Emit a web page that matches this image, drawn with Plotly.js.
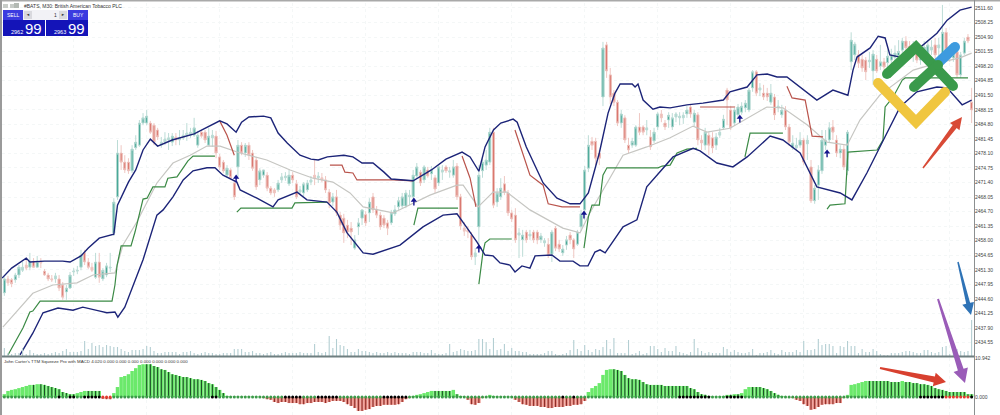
<!DOCTYPE html>
<html><head><meta charset="utf-8">
<script src="https://cdn.plot.ly/plotly-3.0.1.min.js"></script>
<style>html,body{margin:0;padding:0;background:#fff}#c{width:1000px;height:415px}</style></head>
<body><div id="c"></div>
<script>
const opens=[2443.9,2446,2449.2,2449,2449,2450.1,2451.2,2452.4,2451.9,2453.3,2451.9,2453.1,2451,2450.1,2449.2,2449.2,2449.2,2447.8,2446.2,2447.1,2450.8,2451,2451.9,2455.2,2453.1,2451.9,2449.6,2453.1,2449.2,2450.1,2451.7,2459.8,2468.1,2478.2,2476.1,2476.1,2474.1,2479.4,2480,2485.1,2485.1,2485.1,2484.6,2483.5,2480,2480.7,2481.2,2480.7,2481.9,2481.2,2481.7,2482.3,2482.3,2482.3,2480,2483,2483,2480,2481.7,2482.1,2477.3,2476.1,2473.1,2474.3,2471.3,2475,2480,2478.2,2480,2478.2,2476.6,2472,2473.1,2473.1,2470.1,2469.7,2469.7,2472,2472.5,2471.1,2473.1,2471.1,2469.2,2469,2469.7,2471.5,2473.1,2472.5,2472.5,2472,2469.2,2466.9,2468.1,2463.9,2463.2,2461.6,2460.9,2456.3,2461.2,2463.2,2464,2464.4,2468.1,2465.1,2463.9,2463.2,2462.1,2462.1,2464.2,2465.8,2466,2466,2468.1,2468.1,2472.9,2473.8,2472,2474.3,2473.4,2472.5,2471.3,2473.8,2475,2473.8,2473.1,2475.2,2468.1,2460.9,2460.5,2459.3,2454.3,2461.2,2474.1,2475.4,2476.1,2483,2466.9,2468.1,2471.1,2469,2464.4,2463.9,2459.3,2458.2,2460,2459.1,2460,2460,2458.2,2457.5,2457.2,2454.9,2460.9,2457.2,2455.2,2457,2459.3,2458.2,2457.2,2461.2,2465.1,2474.7,2480.9,2480.9,2478.2,2491.1,2503.1,2496.2,2492,2489.9,2485.1,2486.3,2480,2480,2480,2484.2,2484.2,2483.5,2481.9,2481,2484.2,2487.2,2485.1,2485.8,2484.2,2486.5,2486.3,2486.3,2487.2,2488.8,2485.3,2487,2481.2,2480,2482.3,2481.7,2480,2482.3,2484,2492.7,2488.1,2485.1,2487,2487.6,2488.6,2488.1,2493.2,2496.9,2492.7,2492,2492,2489.9,2491.1,2488.6,2487,2488.1,2484.2,2479.4,2479.4,2480,2481.2,2480.3,2475,2467.2,2470.8,2474.1,2480,2481.2,2484.2,2481.2,2478.2,2479.1,2474.1,2499.2,2500.8,2500.8,2499.8,2499.6,2499.2,2497.1,2499.8,2498.2,2499.2,2499,2499.6,2500.2,2500.6,2501.9,2504,2502.8,2500.8,2501.9,2499.6,2501.5,2500.3,2501.9,2503.1,2502.4,2500.3,2506,2500.8,2500.1,2501.5,2496.2,2501.2,2504.9,2489.9];
const highs=[2446.6,2449.6,2449.9,2449.4,2450.6,2452.4,2453.1,2453.6,2455.2,2454,2454.5,2454,2451.5,2450.6,2450.1,2450.6,2450.1,2448.5,2447.8,2450.8,2451.7,2452.2,2455.9,2455.9,2454,2452.9,2455.2,2455.2,2451.7,2452.9,2455.2,2467.8,2481.2,2480,2477.7,2477,2480,2482.3,2485.8,2487.4,2488.1,2485.6,2485.1,2484,2481.9,2483,2482.8,2482.8,2482.8,2483.5,2483.5,2485.1,2484,2486.3,2483.3,2483.5,2483.5,2484,2483.5,2483.3,2478,2476.6,2475.4,2474.7,2472,2481.2,2480.7,2480.5,2480.7,2478.9,2477.3,2474.7,2474.3,2473.8,2470.6,2470.1,2472,2473.6,2473.8,2474.3,2473.8,2472,2470.6,2471.5,2472,2472.9,2476.6,2473.8,2473.6,2472.9,2469.9,2469,2469.7,2464.6,2464.2,2462.8,2462.3,2459.3,2463.2,2465.2,2464.8,2467.8,2469,2466,2464.6,2463.9,2462.8,2465.1,2466.2,2468.1,2469,2469.7,2469.7,2474.3,2475.9,2474.3,2475.4,2475,2475.2,2473.1,2475.4,2475.4,2475.4,2475,2476.6,2475.9,2468.8,2462.3,2461.4,2460,2456.3,2475.4,2477,2478.9,2484,2484,2470.1,2472.4,2472.9,2469.7,2465.1,2465.5,2460.9,2460.5,2460.5,2460.5,2460.5,2460.5,2459.8,2458.6,2458.6,2460.5,2461.4,2458.2,2457,2459.1,2460,2458.6,2460.5,2465.1,2475.2,2482.3,2481.9,2481.7,2478.9,2503.8,2503.8,2497.8,2492.7,2490.4,2488.1,2486.9,2481.7,2481.7,2484.6,2487.4,2484.6,2485.8,2483.5,2484,2487.6,2488.1,2485.8,2487.6,2487.4,2487.6,2487.6,2487.6,2489,2489.5,2488.1,2487.6,2482.3,2484,2483,2483,2482.8,2484,2487,2493.2,2489,2488.6,2489.5,2489.9,2490.4,2493.2,2497.3,2497.3,2494.3,2493.9,2493.2,2494.1,2491.8,2490.4,2489.3,2489,2484.9,2482.3,2481.7,2483,2481.7,2482.3,2476.6,2470.8,2475.4,2483.5,2483.5,2485.3,2485.8,2482.3,2480,2480,2483.5,2506,2503.8,2501.9,2500.8,2500.3,2501.5,2501.9,2500.8,2503.1,2500.1,2502,2502.2,2503,2504.2,2504.7,2505.1,2504,2504,2503,2503.1,2504,2504.2,2504.2,2504.7,2504.7,2512.3,2507,2503.1,2502.4,2502.4,2501.5,2504.7,2505.6,2493.2];
const lows=[2443.2,2445.3,2447.6,2447.3,2448.3,2449.4,2450.8,2451.2,2451.2,2451.7,2451.7,2451.7,2449.9,2448.7,2448.5,2448.3,2446.4,2444.4,2444.4,2446.9,2449.9,2450.3,2451.2,2452.4,2451.5,2450.8,2449.2,2448.3,2448.7,2449.6,2450.8,2459.1,2467.4,2474.3,2473.6,2473.4,2473.6,2478.9,2479.6,2484.6,2484.6,2482.6,2480,2481.2,2479.4,2480,2478.9,2479.8,2480,2480,2481.2,2481,2481.7,2481.9,2479.4,2481.7,2480.5,2479.8,2479.6,2477,2474.3,2473.6,2472.5,2472,2467.4,2472.7,2477.7,2477.3,2476.6,2474.1,2469.7,2470.8,2472.5,2469.4,2468.5,2468.1,2469.2,2471.3,2471.8,2470.6,2471.3,2467.6,2468.5,2468.3,2469.2,2470.8,2470.8,2471.3,2471.5,2469,2465.5,2466,2463.7,2460.5,2457.5,2458.6,2457,2455.9,2459.3,2461.6,2461.4,2462.3,2464.4,2463.2,2460.5,2460.9,2459.3,2461.6,2463.7,2465.1,2465.5,2465.5,2466.2,2467.4,2472.5,2470.6,2471.3,2472.5,2472,2469,2470.6,2472,2473.6,2472.5,2472.5,2467.4,2460.5,2459.1,2458.6,2453.6,2452.4,2455.9,2472.5,2474.3,2475.4,2465.5,2465.8,2467.4,2468.5,2463.7,2462.3,2457.5,2454,2454.3,2457.5,2458.2,2457.5,2457.2,2457.5,2456.6,2454,2453.1,2455.6,2455.4,2454.5,2455.9,2457.2,2454,2456.8,2460.2,2462.8,2473.8,2478.9,2475.4,2475.4,2489,2495.5,2489.5,2489,2484.4,2484,2480.5,2478.2,2479.4,2479.6,2482.3,2482.3,2482.3,2478.9,2480.5,2483.5,2485.3,2483.5,2484,2483.5,2485.3,2484.6,2484.9,2486.3,2486.3,2484.4,2480,2478.9,2478.9,2477.7,2478.2,2478.9,2481.7,2483.5,2484.6,2483.5,2484.4,2486.3,2487,2487.6,2487.6,2492.3,2491.3,2491.3,2490.4,2490.2,2489.3,2485.8,2487.6,2486.3,2483.5,2479.8,2478.9,2478.9,2479.4,2475.4,2476.6,2466.7,2466.5,2467.4,2473.4,2478.9,2480.5,2481.2,2477.3,2477,2474.3,2473.1,2497.3,2499.6,2497.8,2496.9,2495,2497.8,2493.9,2496.6,2497.3,2497.3,2497.5,2498.2,2498.9,2499.5,2500.8,2501.5,2500.8,2499.2,2498.9,2498.5,2500.4,2499.2,2500.8,2499.6,2500.5,2496.9,2501.8,2499.2,2499.2,2495.5,2495.5,2500.8,2503.5,2485.1];
const closes=[2446.2,2449.2,2448.3,2448.1,2450.1,2451.9,2451.9,2451.7,2453.3,2451.9,2453.3,2452.9,2450.1,2449.2,2449,2449.9,2447.1,2445,2447.1,2450.1,2451,2451.2,2454.7,2453.1,2451.9,2451.2,2453.1,2449.6,2451.2,2452.2,2451.9,2466.9,2478.2,2476.1,2474.3,2474.1,2479.1,2480.7,2485.1,2486.3,2486.7,2483,2480.7,2481.9,2480.7,2481.4,2481.7,2482.1,2481.2,2481.7,2482.3,2482.8,2483,2484,2482.3,2482.1,2481.2,2482.1,2482.3,2478.2,2475,2474.1,2474.7,2472.5,2468.1,2480,2478.2,2480,2477.7,2474.7,2470.4,2474.1,2474.3,2470.1,2469,2469,2471.3,2472.7,2472.9,2473.1,2472,2468.1,2469.7,2471.1,2471.3,2472,2472.5,2472.9,2472,2469.7,2466.7,2468.1,2464.4,2461.6,2459.8,2460,2460,2458.2,2462.1,2465.1,2462.1,2466.9,2465.1,2463.9,2461.2,2461.6,2460.9,2464.4,2465.1,2467.2,2468.1,2469,2468.5,2473.1,2475,2471.3,2475,2472.9,2474.3,2469.9,2475,2474.3,2474.1,2474.1,2475,2468.1,2461.4,2460.2,2460,2454.3,2455.2,2473.1,2476.1,2476.6,2483,2466.2,2469,2470.1,2469.2,2464.4,2463,2458.2,2459.8,2459.3,2458.2,2459.5,2458.2,2458.2,2459.1,2458,2454.7,2460,2456.3,2456.1,2456.1,2458.2,2458.2,2456.1,2460,2464.2,2474.3,2480,2480,2477,2477,2502.4,2497.1,2491.1,2489.9,2485.1,2487.2,2481.2,2478.9,2480.9,2484.2,2483,2483,2484,2479.6,2483,2487.2,2486.3,2484.2,2486.9,2486.3,2487.2,2486.7,2486.9,2488.1,2487.2,2487.4,2481.2,2480.5,2483,2480,2479.4,2481.9,2483,2486,2490.4,2484,2488.1,2488.8,2489,2489.7,2492.7,2496.9,2492,2493.2,2491.1,2491.1,2492,2487,2489,2488.1,2484.2,2480.7,2480.5,2480,2481.2,2476.1,2481.2,2467.2,2470.1,2474.3,2481.2,2481.2,2484,2483,2478.2,2479.1,2475,2483,2504.2,2503.3,2498.9,2497.8,2496.9,2499.6,2501,2497.1,2499.2,2498,2500.5,2500.8,2501.2,2501.6,2504,2502.4,2501.5,2502.4,2499.6,2501.5,2502.6,2503.1,2502.6,2500.8,2503.1,2506,2501.9,2501.9,2501,2496.2,2500.8,2504,2504,2488.1];
const volume=[3,8,3,2,3,3,8,2,6,3,2,2,3,2,3,4,3,5,7,4,4,4,5,15,7,13,10,11,9,11,10,9,9,7,5,4,6,6,6,7,10,9,5,3,3,4,4,4,4,2,4,4,5,3,2,3,4,3,3,2,2,3,3,3,7,7,7,4,4,5,3,3,2,3,4,2,2,3,4,3,3,3,4,3,3,3,12,4,3,4,20,8,17,11,10,7,4,4,7,5,5,4,3,4,3,3,4,3,4,3,3,3,2,4,4,4,3,3,6,3,2,2,3,12,4,5,7,6,5,5,6,17,17,14,7,18,6,7,12,5,8,5,5,4,4,2,2,2,2,3,5,5,2,1,2,3,6,16,7,5,11,6,4,7,6,9,16,7,18,3,3,3,16,2,3,5,2,3,10,10,7,4,8,5,5,10,4,3,2,4,17,8,5,3,4,3,3,3,9,7,4,6,4,3,3,4,7,1,3,3,4,6,3,2,6,4,4,4,6,4,15,6,6,7,17,11,12,12,10,3,10,9,15,10,10,3,7,4,4,7,5,2,1,1,3,3,3,4,5,5,4,3,3,6,6,4,3,4,9,10,2,10,7,5,4,5,36];
const histogram=[.3,.8,1.7,2,2.2,2.5,2.8,3.1,3.4,3.4,3.6,3.6,3.4,3.1,2.8,2.5,2.2,1.4,1.1,.8,.8,1.1,1.4,1.7,1.7,1.7,1.7,1.7,-.5,-.6,-.6,1.1,2.8,5.6,5.9,6.4,7.3,8.1,9,9.2,9.2,9.2,8.7,8.4,7.8,7.6,7,6.4,6.2,5.9,5.6,5.6,5.3,5,5,4.8,4.5,3.9,3.6,2.8,2,1.1,.3,.1,.1,.1,.1,.1,.1,.1,.1,.1,-.3,-.6,-.8,-1.4,-1.7,-1.4,-1.4,-1.7,-1.7,-1.7,-2,-2,-1.7,-1.7,-1.4,-1.4,-1.4,-1.7,-1.4,-1.1,-1.1,-1.1,-1.4,-2,-2.5,-3.1,-3.9,-3.9,-3.6,-3.4,-2.8,-2.5,-2.5,-2.2,-2.2,-2.2,-2.2,-2,-1.4,-.6,-.3,.3,.6,.8,1.1,1.4,1.7,1.7,1.7,1.7,1.7,1.7,2,.8,.3,.1,-.8,-2,-2.2,-1.7,-.3,.1,.6,.3,.1,.1,.1,.1,.1,-.8,-1.4,-2,-2.2,-2.5,-2.5,-2.5,-2.8,-2.8,-3.1,-3.1,-2.8,-2.8,-2.8,-2.5,-2.5,-2.2,-2.2,-2,-1.1,1.4,2.5,3.1,3.9,6.2,7.6,7.8,7.8,7.6,7.3,6.2,5.3,5,5,4.8,4.2,3.6,3.4,3.4,3.4,3.4,3.1,3.1,3.1,3.1,3.1,3.1,3.1,2.5,2.2,1.4,.8,.6,.3,.1,.1,.1,.3,.6,.6,.8,.8,1.1,2.2,2.8,2.8,2.8,2.8,2.5,2.2,1.7,1.1,.6,.3,.1,-.1,-.3,-.8,-1.1,-2,-2.5,-3.6,-3.4,-2.8,-2.2,-2,-2,-2,-1.7,-1.7,-.3,.6,3.4,3.6,3.9,4.2,4.5,4.5,4.5,4.5,4.5,4.5,4.5,4.2,4.2,4.2,4.5,4.2,4.2,3.9,3.9,3.6,3.6,3.4,3.1,2.5,2.2,2,1.7,1.4,1.4,1.4,1.4,1.4,.8,.8];
const blackDots=[16,19,20,23,24,25,26,27,58,59,78,79,80,81,82,87,88,89,90,91,92,105,106,107,108,109,110,111,154,157,186,187,188,189,190,191,192,193,194,199,200,201,202,203,252,253,254,255,256,257,258,266];
const redDots=[28,29,30,259,260,261,262,263,264,265];
const upperX=[0.4,3,7,8,12,17,19,22,24,27,31,31.3,32,35,37,39,41,43,47,53,57,60,62,64.5,66,68,72,74,76,78.5,82,85,87,89.5,94,96.5,99,102,105,107,113,118,122,126.4,128.6,131,132.7,135,137,140.4,141.5,144,148.6,152.4,156,158.7,161,164,166.4,168.3,169.7,173,173.8,174.6,176,178.7,180.6,183.4,188,192.4,198,199.8,204.5,207.2,210,212.7,215.4,219,223.6,228,232.1,233.5,234.6,238.2,240.4,242.3,243.6,246.4,251,256.5,259.3,262.8,266];
const upperY=[2449.4,2451.7,2454,2453.1,2453.3,2453.3,2453.1,2454.5,2456.3,2458.6,2459.5,2461.6,2466.2,2471.5,2474.3,2478.9,2481.4,2479.8,2481.2,2482.6,2484.4,2485.6,2484.9,2483,2485.3,2486.5,2486.7,2486.3,2482.8,2480.5,2477.7,2476.8,2476.6,2477.3,2477.7,2477.3,2475.9,2475.9,2473.8,2472.2,2471.8,2474.3,2476.8,2478.4,2477.3,2474,2479.6,2483.5,2485.1,2486,2485.3,2479.6,2471.3,2467.8,2466.5,2466.5,2469,2478.2,2487.4,2492,2494.1,2494.1,2493.4,2494.1,2490.4,2488.3,2488.8,2488.6,2489.3,2489.7,2490.4,2492.3,2493.4,2496.2,2496.4,2495.7,2495.7,2493.4,2490.4,2492.7,2491.5,2497.3,2500.3,2502.4,2505.1,2504.7,2500.8,2500.3,2501.9,2505.8,2508.8,2511.1,2511.8];
const lowerX=[5.3,8.8,11.6,15.7,19.8,22.5,27.2,29.1,31.3,32.1,34,39,42.8,44.5,47.2,50,52.7,56.5,58.7,60.9,64.7,65.6,70.2,74.6,76,81.2,83.9,89.4,92.1,94.9,99.3,102,109.4,115.7,121.2,125,127.8,130.5,132.7,134.9,136.8,139.5,140.9,142.8,145,146.4,151,153.2,156.8,158.7,160.9,162.8,164.2,165.6,170.5,174.3,177,179.8,184.2,189.7,191.6,196.2,200.6,204.5,210.8,214.3,219,223.6,230,233.2,237.3,242.8,246.4,251,256.5,259.3,263.4,266];
const lowerY=[2431.7,2436.7,2441.4,2442.5,2442,2442.7,2441.8,2441.4,2441.6,2440.4,2442.7,2453.6,2463.9,2465.1,2468.1,2472,2474.1,2474.8,2474.8,2473.1,2471.5,2469.7,2467.8,2465.8,2467.4,2469.2,2467.4,2466.9,2464.6,2459.8,2455.2,2454.9,2457,2461.2,2463.9,2464.2,2460.9,2457.7,2454.7,2454.5,2452.9,2452.4,2450.8,2452.2,2451.7,2454.5,2454.7,2453.3,2453.3,2452.2,2452.2,2455.4,2455.9,2455.2,2461.2,2462.8,2470.4,2473.1,2477.3,2479.3,2478.7,2475.9,2475,2477.3,2482.1,2481.2,2478.2,2470.4,2469,2467.4,2473.6,2482.8,2488.8,2492.3,2493.4,2493.2,2489.3,2490.4];
const midX=[0.6,8.8,14.3,20.9,25.3,31.3,33.5,37.3,42.8,47.2,51.9,56.5,60.1,65.6,72.9,79.3,85.6,91,95.7,99.3,107.5,117.6,125,126.7,130.8,134.9,138.7,145,154,158.7,161.4,166.1,170.5,177,183.4,189.7,193.5,199.8,209.9,214.3,220.9,226.4,231.9,235.4,240.9,250,256.5,262.8,266];
const midY=[2438.1,2445.9,2447.8,2448.3,2450.1,2450.6,2457,2462.3,2471.3,2475.9,2477.7,2479.8,2479.8,2478.2,2476.6,2474.3,2472.4,2471.5,2469,2465.8,2464.4,2468.5,2470.8,2470.8,2465.8,2469.2,2469.2,2465.1,2460.9,2459.8,2464.4,2471.3,2477.7,2479.6,2481.7,2484.4,2483,2483.9,2488.8,2488.6,2484.7,2480.7,2480,2485.8,2491.6,2497.3,2498.9,2500.1,2501.2];
const resistX=[60,62,64,null,90.2,93.5,94.3,96.5,97.6,107.5,113,null,126.4,128.6,130.2,null,140.9,142.8,145,148.6,150,153.8,158.7,null,191.6,201.2,null,215.4,216.8,220.4,222.3,225.3];
const resistY=[2485.6,2482.3,2477.7,null,2475.4,2475.4,2473.8,2473.6,2472,2472,2471.8,null,2477.5,2472.4,2465.8,null,2483.5,2478.9,2473.1,2470.8,2466.5,2465.8,2465.8,null,2488.8,2488.8,null,2493.6,2490.9,2490.4,2482.1,2481.9];
const supportX=[2,6.1,8,8.8,10.8,30.5,31.3,31.9,33,35.7,36.8,39,40.1,41.7,45,45.8,48.3,51.3,52.7,58.7,null,64.7,65.8,79.8,80.6,89.4,null,113.2,114.3,125.3,null,131,132.1,132.7,134,140,null,159.8,161,162,164,165,166.1,180.1,181.2,183.4,185.3,188,190.8,null,203.9,205.3,214.3,null,226.4,227.2,231.3,232.1,240.1,241.7,242.3,244.5,247,247.8,265];
const supportY=[2431.7,2437.9,2441.6,2441.8,2444.1,2444.1,2447.8,2452.4,2456.8,2456.8,2460,2467.6,2467.8,2470.4,2470.4,2472.4,2472.7,2476.4,2477.5,2477.5,null,2464.6,2465.5,2465.5,2466.7,2466.9,null,2461.6,2465.5,2465.5,null,2448,2455.2,2457.5,2458.4,2458.4,null,2456.3,2463.5,2466.2,2466.2,2473.1,2474.8,2474.8,2475.2,2475.4,2478.2,2479.1,2479.3,null,2477.3,2482.8,2482.8,null,2465.3,2466.2,2466.5,2478.4,2478.9,2481.2,2488.8,2491.1,2495,2495.5,2495.5];
const signalX=[64.5,113.2,131,159.8,202.5,226.4];
const signalY=[2472.6,2467.3,2456.5,2464.3,2486.4,2478.4];
const priceTicks=[2511.60,2508.25,2504.90,2501.55,2498.20,2494.85,2491.50,2488.15,2484.80,2481.45,2478.10,2474.75,2471.40,2468.05,2464.70,2461.35,2458.00,2454.65,2451.30,2447.95,2444.60,2441.25,2437.90,2434.55];
const subTicks=[10.942,0,-4.5];
const subTickText=['10.942','0.000','-4.787'];

const idx=opens.map((_,i)=>i);
const L=2,T=3,W=972,H=412;
const px=x=>(x-L)/W, py=y=>1-(y-T)/H;
const navy='#1c2478';
const bodyBase=idx.map(i=>Math.min(opens[i],closes[i]));
const bodySize=idx.map(i=>Math.max(Math.abs(closes[i]-opens[i]),0.25));
const bigBody=idx.map(i=>Math.abs(closes[i]-opens[i])>=0.9);
const bodyColor=idx.map(i=>{
  const up=closes[i]>=opens[i];
  if(bigBody[i]) return up?'#2c9c89':'#d5655c';
  return up?'#a9d6ce':'#ecbbb5';
});
const traces=[
 {type:'bar',x:idx,y:volume,yaxis:'y3',xaxis:'x',width:0.3,marker:{color:'#b3ced2',line:{width:0}},hoverinfo:'skip'},
 {type:'candlestick',x:idx,open:opens,high:highs,low:lows,close:closes,xaxis:'x',yaxis:'y',whiskerwidth:0,
  increasing:{line:{color:'#bcdcd6',width:1},fillcolor:'rgba(0,0,0,0)'},
  decreasing:{line:{color:'#efc7c2',width:1},fillcolor:'rgba(0,0,0,0)'},hoverinfo:'skip'},
 {type:'bar',x:idx,base:bodyBase,y:bodySize,xaxis:'x',yaxis:'y',width:0.68,marker:{color:bodyColor,line:{width:0}},hoverinfo:'skip'},
 {type:'scatter',mode:'lines',x:midX,y:midY,line:{color:'#c6c6c2',width:1.2},hoverinfo:'skip'},
 {type:'scatter',mode:'lines',x:resistX,y:resistY,line:{color:'#b9544c',width:1.2},hoverinfo:'skip'},
 {type:'scatter',mode:'lines',x:supportX,y:supportY,line:{color:'#3b8a45',width:1.2},hoverinfo:'skip'},
 {type:'scatter',mode:'lines',x:upperX,y:upperY,line:{color:navy,width:1.4},hoverinfo:'skip'},
 {type:'scatter',mode:'lines',x:lowerX,y:lowerY,line:{color:navy,width:1.4},hoverinfo:'skip'},
 {type:'scatter',mode:'markers',x:signalX,y:signalY,marker:{symbol:'triangle-up',size:5.5,color:'#14148c',line:{width:0}},
  error_y:{type:'data',symmetric:false,array:signalX.map(()=>0),arrayminus:signalX.map(()=>1.2),thickness:1.4,width:0,color:'#14148c'},hoverinfo:'skip'},
 {type:'bar',x:idx,y:histogram.map(v=>v>0?v:null),yaxis:'y2',xaxis:'x',width:0.95,marker:{color:'#6be96b',line:{width:0}},hoverinfo:'skip'},
 {type:'bar',x:idx,y:histogram.map(v=>v<0?v:null),yaxis:'y2',xaxis:'x',width:0.95,marker:{color:'#ea8f86',line:{width:0}},hoverinfo:'skip'},
 {type:'bar',x:idx,y:histogram.map((v,i)=>(v>0&&i>0&&v<=histogram[i-1]&&v>=.3)?v:null),yaxis:'y2',xaxis:'x',width:0.3,marker:{color:'#1d4d28',line:{width:0}},hoverinfo:'skip'},
 {type:'bar',x:idx,y:histogram.map(v=>v<0?v:null),yaxis:'y2',xaxis:'x',width:0.3,marker:{color:'#8c2f2a',line:{width:0}},hoverinfo:'skip'},
 {type:'scatter',mode:'markers',x:idx,y:idx.map(()=>0),yaxis:'y2',xaxis:'x',
  marker:{size:3,line:{width:0},color:idx.map(i=>blackDots.includes(i)?'#000':redDots.includes(i)?'#e23b30':'#3c9a4a')},hoverinfo:'skip'}
];

function stroke(pts,color,w){
  const d=pts.map((p,i)=>(i?'L':'M')+px(p[0])+','+py(p[1])).join(' ');
  const out=[{type:'path',xref:'paper',yref:'paper',path:d,line:{color,width:w},fillcolor:'rgba(0,0,0,0)',layer:'above'}];
  [pts[0],pts[pts.length-1]].forEach(p=>out.push(circle(p[0],p[1],w/2,color)));
  return out;
}
function circle(x,y,r,color){return {type:'circle',xref:'paper',yref:'paper',x0:px(x-r),x1:px(x+r),y0:py(y+r),y1:py(y-r),fillcolor:color,line:{width:0},layer:'above'};}
function rect(x0,y0,x1,y1,color){return {type:'rect',xref:'paper',yref:'paper',x0:px(x0),x1:px(x1),y0:py(y1),y1:py(y0),fillcolor:color,line:{width:0},layer:'above'};}
function arrow(x0,y0,x1,y1,w0,w1,hl,hw,color){
  const dx=x1-x0,dy=y1-y0,l=Math.hypot(dx,dy),ux=dx/l,uy=dy/l,nx=-uy,ny=ux;
  const bx=x1-ux*hl,by=y1-uy*hl;
  const P=[[x0+nx*w0/2,y0+ny*w0/2],[bx+nx*w1/2,by+ny*w1/2],[bx+nx*hw/2,by+ny*hw/2],[x1,y1],[bx-nx*hw/2,by-ny*hw/2],[bx-nx*w1/2,by-ny*w1/2],[x0-nx*w0/2,y0-ny*w0/2]];
  return {type:'path',xref:'paper',yref:'paper',path:P.map((p,i)=>(i?'L':'M')+px(p[0])+','+py(p[1])).join(' ')+' Z',fillcolor:color,line:{width:0},layer:'above'};
}
const shapes=[
 rect(0,0,1000,1.5,'#a9a9a9'),
 rect(0,0,2,415,'#9a9a9a'),
 rect(2,355.6,974,357.6,'#6f7f80'),
 rect(974,0,975,415,'#8b8f90'),
 rect(3,10,23,20,'#3b3be0'),rect(68,10,88,20,'#3b3be0'),
 rect(3,20,45,36,'#1414b8'),rect(46,20,88,36,'#1414b8'),
 rect(23,10,68,20,'#f2f2f6'),rect(24,11,32,19,'#d9d9de'),rect(59,11,67,19,'#d9d9de'),
 rect(3,4,8,8,'#c8ccc8'),rect(10,4,15,8,'#c8ccc8'),rect(14,3,19,8,'#b4bab4'),
 ...stroke([[878,83],[916,122],[945,92]],'#f0c63f',10),
 ...stroke([[938,63],[955,47]],'#3e9bdf',10),
 ...stroke([[887,74],[916,47],[953,86]],'#3a9a4b',10),
 ...stroke([[914,87],[938,65]],'#3a9a4b',10),
 arrow(923,168,962,117,1.5,5,12,12,'#d84a36'),
 arrow(958,262,971,315,1.5,4,12,12,'#2f73b6'),
 arrow(938,299,965,383,2,6,14,15,'#9a5cb8'),
 arrow(880,368,946,382,2,6,12,14,'#d8402f')
];
function label(x,y,text,size,color,anchor,extra){return Object.assign({xref:'paper',yref:'paper',x:px(x),y:py(y),text,showarrow:false,xanchor:anchor||'left',yanchor:'middle',font:{family:'Liberation Sans, Arial, sans-serif',size,color},borderpad:0},extra||{});}
const annotations=[
 label(23,5.5,'#BATS, M30: British American Tobacco PLC',5,'#333'),
 label(3,361,"John Carter's TTM Squeeze Pro with MACD 4.020 0.000 0.000 0.000 0.000 0.000 0.000 0.000",4.4,'#333'),
 label(13,15,'SELL',5,'#fff','center'),label(78,15,'BUY',5,'#fff','center'),
 label(28,15,'◄',4,'#333','center'),label(63,15,'►',4,'#333','center'),label(55,15,'1',5,'#333','center'),
 label(10,31.5,'2962',5.5,'#fff','left'),label(24,28.5,'99',15,'#fff','left'),
 label(53,31.5,'2963',5.5,'#fff','left'),label(67,28.5,'99',15,'#fff','left')
];
const tickFont={family:'Liberation Sans, Arial, sans-serif',size:5,color:'#444'};
const grid='#f4f7f7';
const layout={
 width:1000,height:415,margin:{l:L,r:1000-L-W,t:T,b:0,pad:0},paper_bgcolor:'#fff',plot_bgcolor:'#fff',showlegend:false,barmode:'overlay',dragmode:false,
 xaxis:{range:[0.36,266.65],anchor:'y2',showticklabels:false,ticks:'',showgrid:true,gridcolor:grid,griddash:'dot',gridwidth:1,dtick:20,zeroline:false,showline:false,rangeslider:{visible:false},fixedrange:true},
 yaxis:{domain:[0.1432,1],range:[2431.45,2512.75],side:'right',tickmode:'array',tickvals:priceTicks,ticktext:priceTicks.map(v=>v.toFixed(2)),tickfont:tickFont,ticks:'',ticklen:0,showgrid:true,gridcolor:grid,griddash:'dot',zeroline:false,showline:false,fixedrange:true},
 yaxis2:{domain:[0,0.1383],range:[-5.05,10.942],side:'right',anchor:'x',tickmode:'array',tickvals:subTicks,ticktext:subTickText,tickfont:tickFont,ticks:'',showgrid:false,zeroline:false,showline:false,fixedrange:true},
 yaxis3:{domain:[0.1432,1],overlaying:'y',range:[0,353],visible:false,fixedrange:true},
 shapes,annotations
};
Plotly.newPlot('c',traces,layout,{displayModeBar:false,staticPlot:true});
</script></body></html>
